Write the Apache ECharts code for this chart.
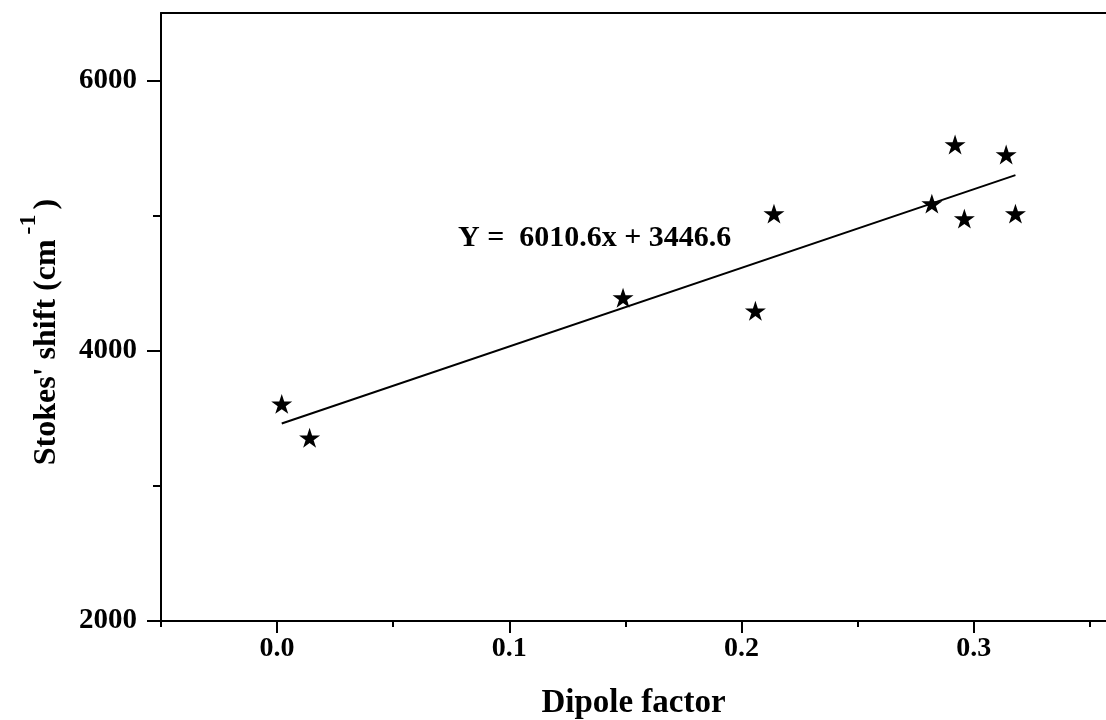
<!DOCTYPE html>
<html>
<head>
<meta charset="utf-8">
<script src="https://cdn.jsdelivr.net/npm/echarts@6/dist/echarts.min.js"></script>
<style>
  html, body { margin: 0; padding: 0; background: #fff; }
  #chart { width: 1106px; height: 720px; }
</style>
</head>
<body>
<div id="chart"></div>
<script>
// dipole factor / stokes shift points
var dipoleX = [0.002, 0.014, 0.149, 0.206, 0.214, 0.282, 0.292, 0.296, 0.314, 0.318];
var stokesY = [3607, 3356, 4393, 4296, 5015, 5089, 5526, 4978, 5452, 5015];
// fitted line end points
var fitX = [0.002, 0.318];
var fitY = [3462, 5300];
// ticks
var xMajorTicks = [0, 0.1, 0.2, 0.3];
var xMinorTicks = [-0.05, 0.05, 0.15, 0.25, 0.35];
var yMajorTicks = [2000, 4000, 6000];
var yMinorTicks = [3000, 5000];

var STAR = 'path://M50,0L61.2,34.5L97.6,34.5L68.2,55.9L79.4,90.5L50,69.1L20.6,90.5L31.8,55.9L2.4,34.5L38.8,34.5Z';
var FONT = 'Liberation Serif';
var X_MIN = -0.05, X_MAX = 0.357;

var myChart = echarts.init(document.getElementById('chart'));

var pts = dipoleX.map(function (x, i) { return [x, stokesY[i]]; });
var fit = fitX.map(function (x, i) { return [x, fitY[i]]; });

var option = {
    backgroundColor: '#fff',
    animation: false,
    grid: {
        left: 161, top: 13, right: 0, bottom: 99,
        outerBoundsMode: 'none', containLabel: false
    },
    xAxis: [{
        type: 'value', min: X_MIN, max: X_MAX, interval: 0.05,
        splitLine: { show: false },
        axisLine: { onZero: false, lineStyle: { color: '#000', width: 2 } },
        axisTick: { customValues: xMajorTicks, length: 12, lineStyle: { color: '#000', width: 2 } },
        axisLabel: {
            customValues: xMajorTicks, margin: 14,
            color: '#000', fontFamily: FONT, fontWeight: 'bold', fontSize: 28,
            formatter: function (v) { return v.toFixed(1); }
        },
        name: 'Dipole factor', nameLocation: 'middle', nameGap: 66,
        nameTextStyle: { color: '#000', fontFamily: FONT, fontWeight: 'bold', fontSize: 33 }
    }, {
        type: 'value', min: X_MIN, max: X_MAX, position: 'bottom',
        splitLine: { show: false },
        axisLine: { show: false, onZero: false },
        axisTick: { customValues: xMinorTicks, length: 6, lineStyle: { color: '#000', width: 2 } },
        axisLabel: { show: false }
    }, {
        // top frame line only
        type: 'value', min: X_MIN, max: X_MAX, position: 'top',
        splitLine: { show: false },
        axisLine: { onZero: false, lineStyle: { color: '#000', width: 2 } },
        axisTick: { show: false },
        axisLabel: { show: false }
    }],
    yAxis: [{
        type: 'value', min: 2000, max: 6500, interval: 1000,
        splitLine: { show: false },
        axisLine: { onZero: false, lineStyle: { color: '#000', width: 2 } },
        axisTick: { customValues: yMajorTicks, length: 14, lineStyle: { color: '#000', width: 2 } },
        axisLabel: {
            customValues: yMajorTicks, margin: 24,
            color: '#000', fontFamily: FONT, fontWeight: 'bold', fontSize: 29,
            formatter: function (v) { return String(v); }
        },
        name: "{n|Stokes' shift (cm}{sup|-1}{n|)}", nameLocation: 'middle', nameGap: 98,
        nameTextStyle: {
            color: '#000', fontFamily: FONT, fontWeight: 'bold', fontSize: 32,
            padding: [0, 30, 0, 0],
            rich: {
                n: { fontFamily: FONT, fontWeight: 'bold', fontSize: 32, lineHeight: 34, verticalAlign: 'bottom', color: '#000' },
                sup: { fontFamily: FONT, fontWeight: 'bold', fontSize: 24, lineHeight: 46, verticalAlign: 'top', padding: [0, 5, 0, 5], color: '#000' }
            }
        }
    }, {
        type: 'value', min: 2000, max: 6500, position: 'left',
        splitLine: { show: false },
        axisLine: { show: false, onZero: false },
        axisTick: { customValues: yMinorTicks, length: 8, lineStyle: { color: '#000', width: 2 } },
        axisLabel: { show: false }
    }],
    graphic: [{
        type: 'text', left: 458, top: 223,
        style: { text: 'Y =  6010.6x + 3446.6', fill: '#000', font: 'bold 30px "Liberation Serif"' }
    }],
    series: [{
        type: 'line', data: fit, showSymbol: false, symbol: 'none',
        lineStyle: { color: '#000', width: 2 }
    }, {
        type: 'scatter', data: pts, symbol: STAR, symbolSize: 21, symbolKeepAspect: true,
        itemStyle: { color: '#000', opacity: 1 }
    }]
};

myChart.setOption(option);
</script>
</body>
</html>
